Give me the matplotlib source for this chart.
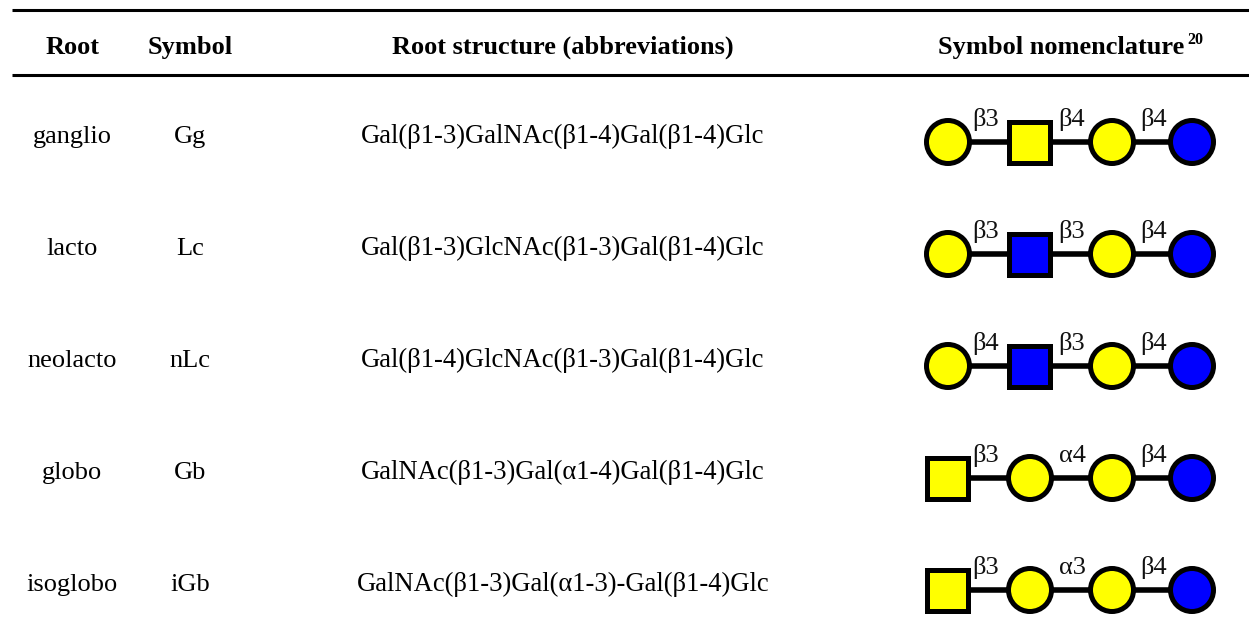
import matplotlib
matplotlib.use('Agg')
import matplotlib.pyplot as plt
from matplotlib.patches import Circle, Rectangle

plt.rcParams['font.family'] = ['Liberation Serif', 'DejaVu Serif']

# table content
headers = ['Root', 'Symbol', 'Root structure (abbreviations)', 'Symbol nomenclature']
header_x = [73, 190, 563, 1061]
roots = ['ganglio', 'lacto', 'neolacto', 'globo', 'isoglobo']
symbols = ['Gg', 'Lc', 'nLc', 'Gb', 'iGb']
structures = ['Gal(β1-3)GalNAc(β1-4)Gal(β1-4)Glc',
              'Gal(β1-3)GlcNAc(β1-3)Gal(β1-4)Glc',
              'Gal(β1-4)GlcNAc(β1-3)Gal(β1-4)Glc',
              'GalNAc(β1-3)Gal(α1-4)Gal(β1-4)Glc',
              'GalNAc(β1-3)Gal(α1-3)-Gal(β1-4)Glc']
# glycan chains, left to right
shapes = [['o', 's', 'o', 'o'], ['o', 's', 'o', 'o'], ['o', 's', 'o', 'o'],
          ['s', 'o', 'o', 'o'], ['s', 'o', 'o', 'o']]
colours = [['yellow', 'yellow', 'yellow', 'blue'],
           ['yellow', 'blue', 'yellow', 'blue'],
           ['yellow', 'blue', 'yellow', 'blue'],
           ['yellow', 'yellow', 'yellow', 'blue'],
           ['yellow', 'yellow', 'yellow', 'blue']]
links = [['β3', 'β4', 'β4'], ['β3', 'β3', 'β4'], ['β4', 'β3', 'β4'],
         ['β3', 'α4', 'β4'], ['β3', 'α3', 'β4']]

row_base = [143, 255, 367, 479, 591]   # text baselines
chain_y = [142, 254, 366, 478, 590]
node_x = [948, 1030, 1112, 1192]
link_x = [986, 1072, 1154]

fig = plt.figure(figsize=(12.49, 6.32), dpi=100)
ax = fig.add_axes([0, 0, 1, 1])
ax.set_xlim(0, 1249)
ax.set_ylim(632, 0)
ax.axis('off')

# rules
ax.plot([12, 1249], [10, 10], color='black', lw=2.2, solid_capstyle='butt')
ax.plot([12, 1249], [75, 75], color='black', lw=2.2, solid_capstyle='butt')

for x, h in zip(header_x, headers):
    ax.text(x, 54, h, fontsize=19, fontweight='bold', ha='center', va='baseline')
ax.text(1187, 43.5, '20', fontsize=11.5, fontweight='bold', ha='left', va='baseline')

for i, base in enumerate(row_base):
    ax.text(72, base, roots[i], fontsize=19, ha='center', va='baseline')
    ax.text(190, base, symbols[i], fontsize=19, ha='center', va='baseline')
    ax.text(563, base, structures[i], fontsize=19.2, ha='center', va='baseline')
    y = chain_y[i]
    ax.plot([node_x[0], node_x[-1]], [y, y], color='black', lw=4, zorder=1)
    for j, x in enumerate(node_x):
        if shapes[i][j] == 'o':
            ax.add_patch(Circle((x, y), 21.5, fc=colours[i][j], ec='black', lw=3.6, zorder=2))
        else:
            ax.add_patch(Rectangle((x - 20.5, y - 20.5), 41, 41, fc=colours[i][j], ec='black', lw=3.6,
                                   joinstyle='miter', zorder=2))
    for j, t in enumerate(links[i]):
        ax.text(link_x[j], y - 16, t, fontsize=19, ha='center', va='baseline', color='#111111', zorder=3)

fig.savefig('out.png', dpi=100)
